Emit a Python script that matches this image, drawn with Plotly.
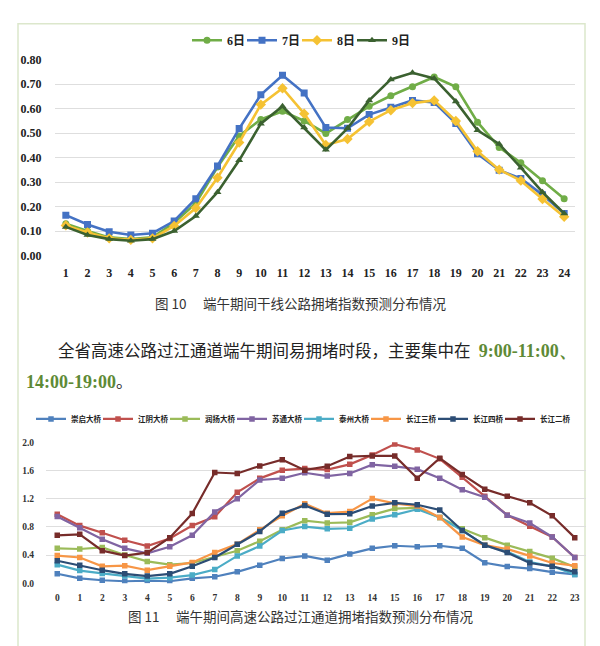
import plotly.graph_objects as go

W, H = 600, 646

# ---------- Chart 1 data (干线公路拥堵指数) ----------
hours1 = list(range(1, 25))
s6 = [0.130, 0.100, 0.074, 0.067, 0.074, 0.134, 0.214, 0.362, 0.489, 0.556, 0.590, 0.550,
      0.499, 0.556, 0.610, 0.653, 0.690, 0.730, 0.690, 0.545, 0.442, 0.379, 0.306, 0.232]
s7 = [0.165, 0.127, 0.097, 0.084, 0.091, 0.141, 0.232, 0.366, 0.519, 0.657, 0.737, 0.664,
      0.523, 0.520, 0.576, 0.606, 0.634, 0.626, 0.540, 0.416, 0.349, 0.315, 0.248, 0.172]
s8 = [0.123, 0.094, 0.070, 0.064, 0.070, 0.121, 0.194, 0.318, 0.462, 0.617, 0.684, 0.580,
      0.452, 0.476, 0.547, 0.594, 0.623, 0.634, 0.550, 0.426, 0.351, 0.306, 0.231, 0.158]
s9 = [0.117, 0.084, 0.067, 0.060, 0.067, 0.100, 0.161, 0.259, 0.389, 0.539, 0.610, 0.523,
      0.432, 0.520, 0.634, 0.720, 0.747, 0.724, 0.630, 0.512, 0.456, 0.359, 0.259, 0.172]
names1 = ["6日", "7日", "8日", "9日"]
colors1 = ["#70AD47", "#4472C4", "#F5C233", "#3B6130"]
symbols1 = ["circle", "square", "diamond", "triangle-up"]
yticks1 = [0.0, 0.1, 0.2, 0.3, 0.4, 0.5, 0.6, 0.7, 0.8]

# ---------- Chart 2 data (过江通道拥堵指数) ----------
hours2 = list(range(0, 24))
chongqi = [0.134, 0.070, 0.042, 0.028, 0.035, 0.028, 0.070, 0.092, 0.162, 0.254, 0.351, 0.388,
           0.328, 0.416, 0.495, 0.532, 0.518, 0.532, 0.495, 0.291, 0.236, 0.208, 0.157, 0.125]
jiangyin = [0.980, 0.818, 0.717, 0.610, 0.527, 0.634, 0.818, 0.943, 1.290, 1.489, 1.605, 1.628,
            1.614, 1.688, 1.822, 1.975, 1.891, 1.766, 1.503, 1.235, 0.966, 0.809, 0.657, 0.365]
runyang = [0.495, 0.486, 0.509, 0.400, 0.310, 0.264, 0.287, 0.379, 0.462, 0.597, 0.758, 0.888,
           0.855, 0.865, 0.971, 1.060, 1.070, 0.934, 0.772, 0.647, 0.541, 0.449, 0.356, 0.231]
sutong = [0.948, 0.786, 0.624, 0.495, 0.425, 0.518, 0.680, 1.013, 1.198, 1.466, 1.489, 1.568,
          1.521, 1.558, 1.683, 1.660, 1.619, 1.489, 1.327, 1.221, 0.966, 0.855, 0.657, 0.365]
taizhou = [0.264, 0.180, 0.139, 0.102, 0.065, 0.079, 0.116, 0.194, 0.388, 0.527, 0.749, 0.805,
           0.772, 0.781, 0.911, 0.971, 1.050, 0.934, 0.749, 0.541, 0.449, 0.301, 0.240, 0.125]
cj3 = [0.393, 0.365, 0.240, 0.250, 0.185, 0.240, 0.296, 0.435, 0.555, 0.758, 0.957, 1.128,
       0.994, 1.017, 1.202, 1.133, 1.096, 0.934, 0.657, 0.541, 0.486, 0.388, 0.287, 0.250]
cj4 = [0.319, 0.254, 0.185, 0.134, 0.102, 0.134, 0.240, 0.365, 0.555, 0.735, 0.994, 1.105,
       0.980, 0.985, 1.096, 1.142, 1.114, 1.040, 0.749, 0.541, 0.435, 0.287, 0.240, 0.162]
cj2 = [0.680, 0.694, 0.462, 0.393, 0.435, 0.647, 0.990, 1.572, 1.558, 1.665, 1.753, 1.605,
       1.660, 1.799, 1.808, 1.808, 1.489, 1.776, 1.545, 1.336, 1.235, 1.142, 0.957, 0.647]
names2 = ["崇启大桥", "江阴大桥", "润扬大桥", "苏通大桥", "泰州大桥", "长江三桥", "长江四桥", "长江二桥"]
series2 = [chongqi, jiangyin, runyang, sutong, taizhou, cj3, cj4, cj2]
colors2 = ["#4F81BD", "#C0504D", "#9BBB59", "#8064A2", "#4BACC6", "#F79646", "#2C4D75", "#772C2A"]
yticks2 = [0.0, 0.4, 0.8, 1.2, 1.6, 2.0]

caption1 = "图 10\u3000 端午期间干线公路拥堵指数预测分布情况"
caption2 = "图 11\u3000 端午期间高速公路过江通道拥堵指数预测分布情况"
para1 = "全省高速公路过江通道端午期间易拥堵时段，主要集中在"
para_green1 = "9:00-11:00、"
para_green2 = "14:00-19:00"

SERIF = "Liberation Serif, Times New Roman, serif"
CJK = "Noto Sans CJK SC, sans-serif"

def py(p):  # pixel (from top) to paper fraction
    return 1 - p / H

fig = go.Figure()

for i, (name, vals, col, sym) in enumerate(zip(names1, [s6, s7, s8, s9], colors1, symbols1)):
    fig.add_trace(go.Scatter(
        x=hours1, y=vals, name=name, mode="lines+markers",
        line=dict(color=col, width=2.6),
        marker=dict(symbol=sym, size=7 if sym != "diamond" else 8, color=col),
        legendwidth=22 if i == len(names1) - 1 else None,
        xaxis="x", yaxis="y", legend="legend"))

for i, (name, vals, col) in enumerate(zip(names2, series2, colors2)):
    fig.add_trace(go.Scatter(
        x=hours2, y=vals, name=name, mode="lines+markers",
        line=dict(color=col, width=2.2),
        marker=dict(symbol="square", size=5.5, color=col),
        legendwidth=34 if i == len(names2) - 1 else None,
        xaxis="x2", yaxis="y2", legend="legend2"))

grid = "#DEDEDE"
fig.update_layout(
    width=W, height=H,
    margin=dict(l=0, r=0, t=0, b=0),
    paper_bgcolor="white", plot_bgcolor="white",
    showlegend=True,
    xaxis=dict(domain=[55 / W, 575 / W], range=[0.5, 24.5],
               tickmode="array", tickvals=hours1, ticktext=[str(h) for h in hours1],
               showgrid=False, zeroline=False, showline=False,
               ticks="outside", ticklen=6, tickcolor="rgba(0,0,0,0)",
               tickfont=dict(family=SERIF, size=12, color="#222", weight="bold"),
               fixedrange=True),
    yaxis=dict(domain=[py(254), py(54)], range=[0, 0.8],
               tickmode="array", tickvals=yticks1, ticktext=[f"{v:.2f}" for v in yticks1],
               showgrid=True, gridcolor=grid, gridwidth=1, zeroline=False, showline=False,
               ticks="outside", ticklen=10, tickcolor="rgba(0,0,0,0)",
               tickfont=dict(family=SERIF, size=12, color="#222", weight="bold"),
               fixedrange=True),
    xaxis2=dict(domain=[46 / W, 586 / W], range=[-0.5, 23.5],
                tickmode="array", tickvals=hours2, ticktext=[str(h) for h in hours2],
                showgrid=False, zeroline=False, showline=False,
                ticks="outside", ticklen=5, tickcolor="rgba(0,0,0,0)",
                tickfont=dict(family=SERIF, size=9.5, color="#333", weight="bold"),
                anchor="y2", fixedrange=True),
    yaxis2=dict(domain=[py(589), py(445)], range=[0, 2.0],
                tickmode="array", tickvals=yticks2, ticktext=[f"{v:.1f}" for v in yticks2],
                showgrid=True, gridcolor=grid, gridwidth=1, zeroline=False, showline=False,
                ticks="outside", ticklen=9, tickcolor="rgba(0,0,0,0)",
                tickfont=dict(family=SERIF, size=9.5, color="#333", weight="bold"),
                anchor="x2", fixedrange=True),
    legend=dict(orientation="h", x=303 / W, xanchor="center", y=py(34), yanchor="middle",
                font=dict(family=SERIF + ", " + CJK, size=12, color="#222", weight="bold"),
                entrywidth=10, entrywidthmode="pixels", itemwidth=30,
                bgcolor="rgba(0,0,0,0)", traceorder="normal"),
    legend2=dict(orientation="h", x=31 / W, xanchor="left", y=py(421), yanchor="middle",
                 font=dict(family=CJK, size=7.5, color="#222", weight="bold"),
                 entrywidth=22, entrywidthmode="pixels", itemwidth=30,
                 bgcolor="rgba(0,0,0,0)", traceorder="normal"),
)

# outer light-green frame
fig.add_shape(type="rect", xref="paper", yref="paper",
              x0=18 / W, x1=585 / W, y0=-0.02, y1=py(17),
              line=dict(color="#DCE7CC", width=1.5), fillcolor="rgba(0,0,0,0)", layer="below")

green = "#5E8A36"
fig.add_annotation(xref="paper", yref="paper", x=301 / W, y=py(303), xanchor="center", yanchor="middle",
                   text=caption1, showarrow=False,
                   font=dict(family=CJK, size=13.5, color="#333"))
fig.add_annotation(xref="paper", yref="paper", x=301 / W, y=py(623), xanchor="center", yanchor="middle",
                   text=caption2, showarrow=False,
                   font=dict(family=CJK, size=13.5, color="#333"))
fig.add_annotation(xref="paper", yref="paper", x=56 / W, y=py(351), xanchor="left", yanchor="middle",
                   text=para1 + "\u2002<span style='font-family:Liberation Serif;font-weight:bold;font-size:18px;color:"
                        + green + "'>" + para_green1 + "</span>",
                   showarrow=False, font=dict(family=CJK, size=16.5, color="#222"))
fig.add_annotation(xref="paper", yref="paper", x=24 / W, y=py(382), xanchor="left", yanchor="middle",
                   text="<span style='font-family:Liberation Serif;font-weight:bold;font-size:18px;color:"
                        + green + "'>" + para_green2 + "</span>。",
                   showarrow=False, font=dict(family=CJK, size=16.5, color="#222"))

fig.write_html("out.html")
